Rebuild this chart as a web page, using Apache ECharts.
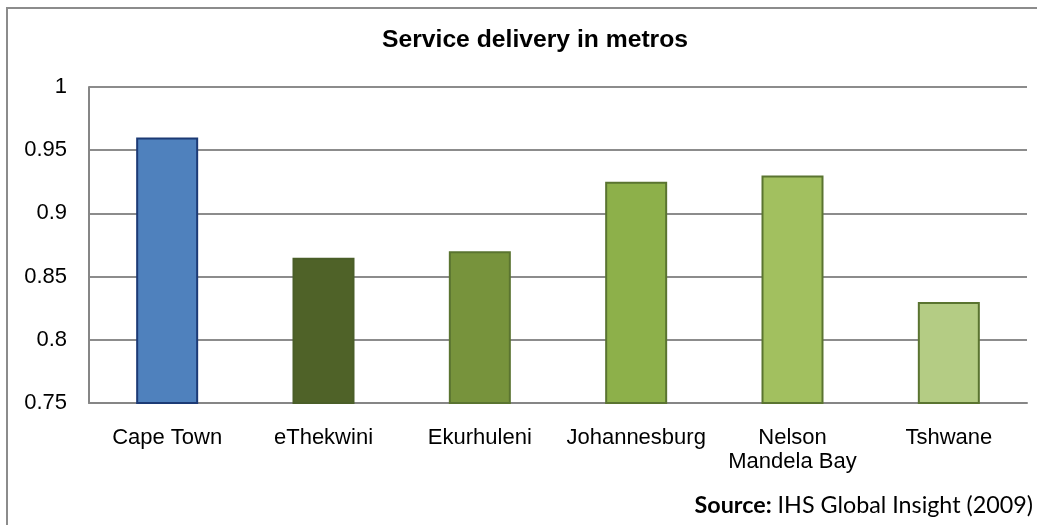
<!DOCTYPE html>
<html><head><meta charset="utf-8">
<script src="https://cdn.jsdelivr.net/npm/echarts@6/dist/echarts.min.js"></script>
<style>html,body{margin:0;padding:0;background:#fff}#c{width:1037px;height:525px}</style>
</head><body><div id="c"></div>
<script>
const categories = ['Cape Town', 'eThekwini', 'Ekurhuleni', 'Johannesburg', 'Nelson Mandela Bay', 'Tshwane'];
const values = [0.96, 0.865, 0.87, 0.925, 0.93, 0.83];
const fillColors = ['#4F81BD', '#4F6228', '#77933C', '#8DB04A', '#A2C05F', '#B4CC84'];
const borderColors = ['#1C3A75', '#4A5E28', '#5A7430', '#5A7430', '#5A7430', '#5A7430'];
const yTicks = { min: 0.75, max: 1, interval: 0.05 };

const chart = echarts.init(document.getElementById('c'));
chart.setOption({
  animation: false,
  title: { text: 'Service delivery in metros', left: 377, top: 23,
    textStyle: { fontFamily: 'Liberation Sans', fontWeight: 'bold', fontSize: 24.7, color: '#000' } },
  grid: { left: 89, right: 10, top: 87, bottom: 122 },
  xAxis: { type: 'category', data: categories,
    axisLine: { lineStyle: { color: '#868686', width: 2 } },
    axisTick: { show: false },
    axisLabel: { interval: 0, hideOverlap: false, fontFamily: 'Liberation Sans', fontSize: 22, color: '#000', margin: 23, lineHeight: 24,
      formatter: v => v === 'Nelson Mandela Bay' ? 'Nelson\nMandela Bay' : v } },
  yAxis: { type: 'value', min: yTicks.min, max: yTicks.max, interval: yTicks.interval,
    axisLine: { show: true, lineStyle: { color: '#868686', width: 2 } },
    axisTick: { show: false },
    splitLine: { lineStyle: { color: '#8c8c8c', width: 2 } },
    axisLabel: { fontFamily: 'Liberation Sans', fontSize: 22, color: '#000', margin: 22,
      formatter: v => String(Math.round(v * 100) / 100) } },
  series: [{ type: 'bar', barWidth: 62,
    data: values.map((v, i) => ({ value: v, itemStyle: { color: fillColors[i], borderColor: borderColors[i], borderWidth: 2 } })) }],
  graphic: [
    { type: 'polyline', shape: { points: [[7, 525], [7, 8], [1037, 8]] }, style: { stroke: '#8c8c8c', lineWidth: 2, fill: null } },
    { type: 'text', style: { x: 1033, y: 505, align: 'right', verticalAlign: 'middle',
      rich: { b: { fontFamily: 'Lato', fontWeight: 'bold', fontSize: 23.3, fill: '#000' }, n: { fontFamily: 'Lato', fontSize: 23.3, fill: '#000' } },
      text: '{b|Source:}{n| IHS Global Insight (2009)}' } }
  ]
});
</script></body></html>
